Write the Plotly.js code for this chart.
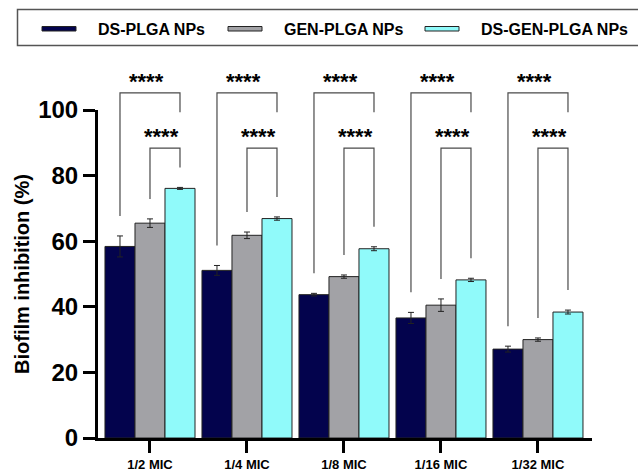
<!DOCTYPE html>
<html>
<head>
<meta charset="utf-8">
<script src="https://cdn.plot.ly/plotly-3.0.1.min.js"></script>
<style>html,body{margin:0;padding:0;background:#fff;}#chart{width:638px;height:471px;}</style>
</head>
<body>
<div id="chart"></div>
<script>
// ---- data ----
const categories = ['1/2 MIC', '1/4 MIC', '1/8 MIC', '1/16 MIC', '1/32 MIC'];
const seriesNames = ['DS-PLGA NPs', 'GEN-PLGA NPs', 'DS-GEN-PLGA NPs'];
const dsPlga = [58.4, 51.1, 43.7, 36.6, 27.1];
const dsPlgaErr = [3.2, 1.5, 0.4, 1.7, 0.9];
const genPlga = [65.5, 61.8, 49.2, 40.5, 30.0];
const genPlgaErr = [1.3, 1.0, 0.5, 1.9, 0.5];
const dsGenPlga = [76.1, 66.9, 57.7, 48.2, 38.4];
const dsGenPlgaErr = [0.3, 0.5, 0.6, 0.5, 0.6];
const sigOuter = ['****', '****', '****', '****', '****']; // DS-PLGA vs DS-GEN-PLGA
const sigInner = ['****', '****', '****', '****', '****']; // GEN-PLGA vs DS-GEN-PLGA
const yTicks = [0, 20, 40, 60, 80, 100];

// ---- styles / layout constants ----
const colors = ['#03034d', '#a2a2a6', '#90fafa'];
const FONT = 'Liberation Sans, Arial, sans-serif';
const M = {l: 98, r: 46, t: 60, b: 33};
const W = 638, H = 471;
const plotW = W - M.l - M.r, plotH = H - M.t - M.b;
const yTopPx = 110;                       // pixel row of y = 100
const mainFrac = (H - M.b - yTopPx) / plotH; // main y-axis domain fraction
const px2x = p => (p - M.l) / plotW;
const px2y = p => (H - M.b - p) / plotH;
const bargap = 0.072;
const barW = (1 - bargap) / 3;
const offsets = [-barW, 0, barW];
const legGap = 6.1, outerTop = 105.2, innerTop = 88.4, outerRightEnd = 99.3;
const outerStarY = 110.1, innerStarY = 93.4;

const xIdx = categories.map((c, i) => i);
const vals = [dsPlga, genPlga, dsGenPlga];
const errs = [dsPlgaErr, genPlgaErr, dsGenPlgaErr];

const traces = vals.map((v, k) => ({
  type: 'bar', x: xIdx, y: v, name: seriesNames[k],
  marker: {color: colors[k], line: {color: '#222', width: 1}},
  error_y: {type: 'data', array: errs[k], visible: true, thickness: 1, width: 3, color: '#222'},
  showlegend: false, hoverinfo: 'skip'
}));

// significance brackets computed from the data (drawn on an overlay axis with same scale)
const bx = [], by = [];
const annotations = [];
const starFont = {family: FONT, size: 22, color: '#000', weight: 'bold'};
xIdx.forEach(i => {
  const xa = i + offsets[0], xb = i + offsets[1], xc = i + offsets[2];
  const ta = dsPlga[i] + dsPlgaErr[i] + legGap;
  const tb = genPlga[i] + genPlgaErr[i] + legGap;
  const tc = dsGenPlga[i] + dsGenPlgaErr[i] + legGap;
  bx.push(xa, xa, xc, xc, null); by.push(ta, outerTop, outerTop, outerRightEnd, null);
  bx.push(xb, xb, xc, xc, null); by.push(tb, innerTop, innerTop, tc, null);
  annotations.push({x: (xa + xc) / 2, y: outerStarY, xref: 'x', yref: 'y2', text: sigOuter[i],
    showarrow: false, xanchor: 'center', yanchor: 'middle', xshift: -3, yshift: -5, font: starFont});
  annotations.push({x: (xb + xc) / 2, y: innerStarY, xref: 'x', yref: 'y2', text: sigInner[i],
    showarrow: false, xanchor: 'center', yanchor: 'middle', xshift: -3, yshift: -5, font: starFont});
});
traces.push({type: 'scatter', mode: 'lines', x: bx, y: by, xaxis: 'x', yaxis: 'y2',
  line: {color: '#4a4a4a', width: 1.2}, showlegend: false, hoverinfo: 'skip'});

// y title
annotations.push({xref: 'paper', yref: 'paper', x: px2x(22), y: px2y(274), text: 'Biofilm inhibition (%)',
  textangle: -90, showarrow: false, xanchor: 'center', yanchor: 'middle',
  font: {family: FONT, size: 20, color: '#000', weight: 'bold'}});

// manual legend (wide flat swatches)
const shapes = [{type: 'rect', xref: 'paper', yref: 'paper', x0: px2x(17.5), x1: px2x(645),
  y0: px2y(45.5), y1: px2y(9.5), line: {color: '#555', width: 1.5}, fillcolor: 'rgba(0,0,0,0)'}];
const swX = [42, 228, 425];
const txX = [96, 282, 479];
seriesNames.forEach((n, k) => {
  shapes.push({type: 'rect', xref: 'paper', yref: 'paper', x0: px2x(swX[k]), x1: px2x(swX[k] + 34),
    y0: px2y(31), y1: px2y(26.5), fillcolor: colors[k], line: {color: '#222', width: 1}});
  annotations.push({xref: 'paper', yref: 'paper', x: px2x(txX[k]), y: px2y(29.5), text: n,
    showarrow: false, xanchor: 'left', yanchor: 'middle',
    font: {family: FONT, size: 16, color: '#000', weight: 'bold'}});
});

const layout = {
  width: W, height: H, margin: M, paper_bgcolor: '#fff', plot_bgcolor: 'rgba(0,0,0,0)',
  barmode: 'group', bargap: bargap, bargroupgap: 0, showlegend: false,
  font: {family: FONT, color: '#000'},
  xaxis: {range: [-0.536, 4.557], tickvals: xIdx, ticktext: categories, showgrid: false, zeroline: false,
    showline: true, linewidth: 3, linecolor: '#000', ticks: 'outside', ticklen: 12, tickwidth: 3,
    tickcolor: '#000', tickfont: {family: FONT, size: 13, color: '#000', weight: 'bold'}},
  yaxis: {domain: [0, mainFrac], range: [0, 100], tickvals: yTicks, showgrid: false, zeroline: false,
    showline: true, linewidth: 3, linecolor: '#000', ticks: 'outside', ticklen: 12, tickwidth: 3,
    tickcolor: '#000', tickfont: {family: FONT, size: 24, color: '#000', weight: 'bold'}},
  yaxis2: {domain: [0, 1], range: [0, 100 / mainFrac], anchor: 'x', showgrid: false, zeroline: false,
    showline: false, showticklabels: false, ticks: ''},
  annotations: annotations, shapes: shapes
};
Plotly.newPlot('chart', traces, layout, {staticPlot: true, displayModeBar: false});
</script>
</body>
</html>
